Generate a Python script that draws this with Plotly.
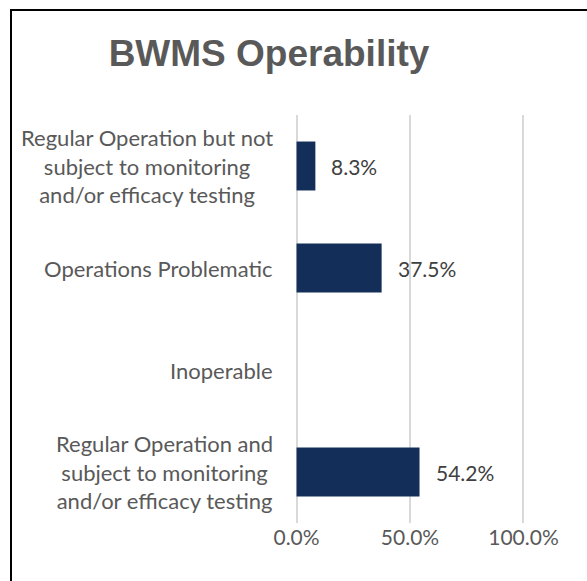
import plotly.graph_objects as go

# Survey responses on ballast water management system operability (top to bottom)
categories = [
    "Regular Operation but not<br>subject to monitoring<br>and/or efficacy testing",
    "Operations Problematic",
    "Inoperable",
    "Regular Operation and<br>subject to monitoring<br>and/or efficacy testing",
]
shares = [8.3, 37.5, 0.0, 54.2]
x_ticks = [0, 50, 100]
x_tick_labels = ["0.0%", "50.0%", "100.0%"]

W, H = 587, 581
L, R, T, B = 292, 59, 115, 58
pw, ph = W - L - R, H - T - B

label_font = dict(family="Lato, Carlito, sans-serif", size=22, color="#595959")
value_font = dict(family="Lato, Carlito, sans-serif", size=21, color="#404040")

fig = go.Figure()
fig.add_trace(go.Bar(
    x=shares,
    y=categories,
    orientation="h",
    width=0.48,
    marker=dict(color="#132e58", line=dict(width=0)),
    hoverinfo="skip",
))

# value labels to the right of each bar (the empty category carries none)
for cat, v in zip(categories, shares):
    if v > 0:
        fig.add_annotation(
            x=v, y=cat, xref="x", yref="y",
            text=f"{v:.1f}%", showarrow=False,
            xanchor="left", yanchor="middle", xshift=14,
            font=value_font,
        )

# category labels: block right-aligned, lines centred within it
for cat in categories:
    fig.add_annotation(
        x=0, y=cat, xref="x", yref="y",
        text=cat, showarrow=False, align="center",
        xanchor="right", yanchor="middle", xshift=-22,
        font=label_font,
    )

# chart frame
fig.add_shape(
    type="rect", xref="paper", yref="paper",
    x0=(11 - L) / pw, x1=(W + 20 - L) / pw,
    y0=(H - B - (H + 20)) / ph, y1=(H - B - 10) / ph,
    line=dict(color="black", width=2), fillcolor="rgba(0,0,0,0)", layer="above",
)

fig.update_layout(
    width=W, height=H,
    margin=dict(l=L, r=R, t=T, b=B),
    paper_bgcolor="white", plot_bgcolor="white",
    showlegend=False,
    title=dict(
        text="<b>BWMS Operability</b>",
        x=269 / W, xanchor="center", xref="container",
        y=1 - 53 / H, yanchor="middle", yref="container",
        font=dict(family="Liberation Sans, Arial, sans-serif", size=37, color="#595959"),
    ),
    xaxis=dict(
        range=[-2, 102], tickvals=x_ticks, ticktext=x_tick_labels,
        showgrid=True, gridcolor="#d9d9d9", gridwidth=1.5,
        zeroline=False, showline=False, ticks="",
        tickfont=dict(family="Lato, Carlito, sans-serif", size=21, color="#595959"),
        fixedrange=True,
    ),
    yaxis=dict(
        autorange="reversed", showticklabels=False, showgrid=False,
        zeroline=False, showline=False, ticks="", fixedrange=True,
    ),
    bargap=0.52,
)

fig.write_html("out.html")
